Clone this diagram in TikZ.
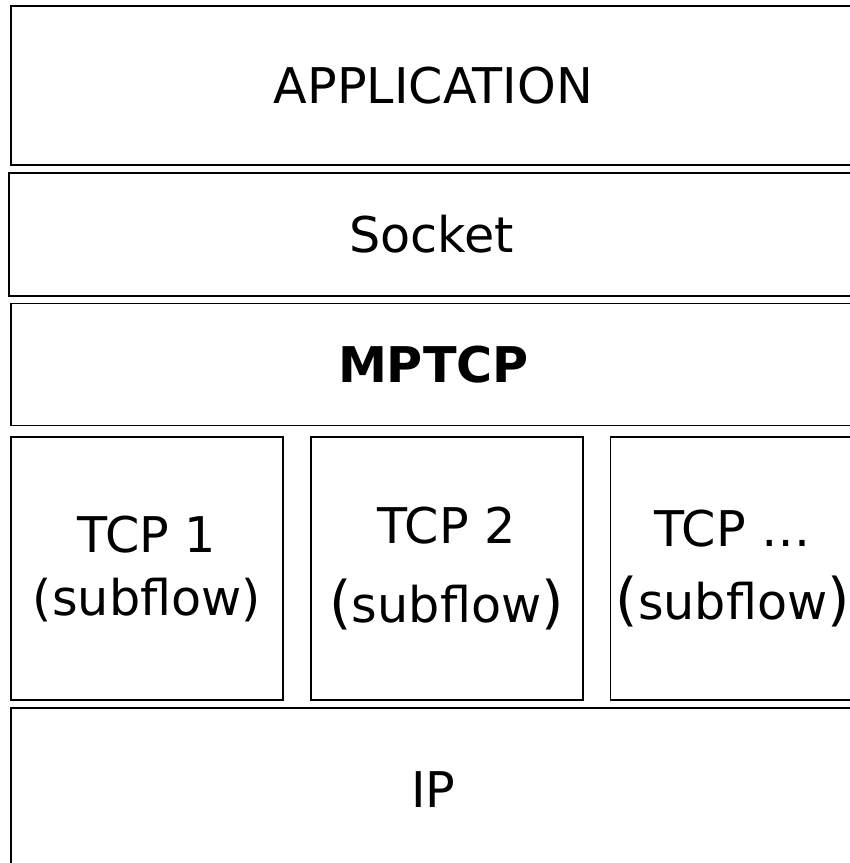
\documentclass[tikz,border=0pt]{standalone}
\usepackage{fontspec}
\setmainfont{DejaVu Sans}
\usetikzlibrary{positioning}
\tikzstyle{lyr}=[rectangle,line width=1.5pt,draw=black,fill=white,minimum width=25.35cm,inner sep=0pt,align=center,font=\fontsize{42}{54}\selectfont]
\tikzstyle{sub}=[lyr,minimum width=8.16cm,minimum height=7.89cm]
\newcommand{\bigpar}[1]{{\fontsize{49}{54}\selectfont #1}}

\begin{document}
\begin{tikzpicture}
	\path[use as bounding box,clip] (0,0) rectangle (25.5,-25.89);
	\node (app) [lyr,minimum height=4.77cm,anchor=north west] at (0.3,-0.15) {APPLICATION};
	\node (sock) [lyr,minimum height=3.69cm,below=0.18cm of app,xshift=-0.06cm] {Socket};
	\node (mptcp) [lyr,minimum height=3.66cm,below=0.18cm of sock,xshift=0.06cm] {\textbf{MPTCP}};
	\node (tcp1) [sub,below=0.3cm of mptcp.south west,anchor=north west] {TCP 1\\(subflow)};
	\node (tcp2) [sub,right=0.78cm of tcp1] {TCP 2\\[14pt]\bigpar{(}subflow\bigpar{)}};
	\node (tcp3) [sub,right=0.78cm of tcp2,minimum width=7.34cm] {TCP …\\[8pt]\bigpar{(}subflow\bigpar{)}};
	\node (ip) [lyr,minimum height=4.89cm,below=0.18cm of tcp1.south west,anchor=north west] {IP};
\end{tikzpicture}
\end{document}
